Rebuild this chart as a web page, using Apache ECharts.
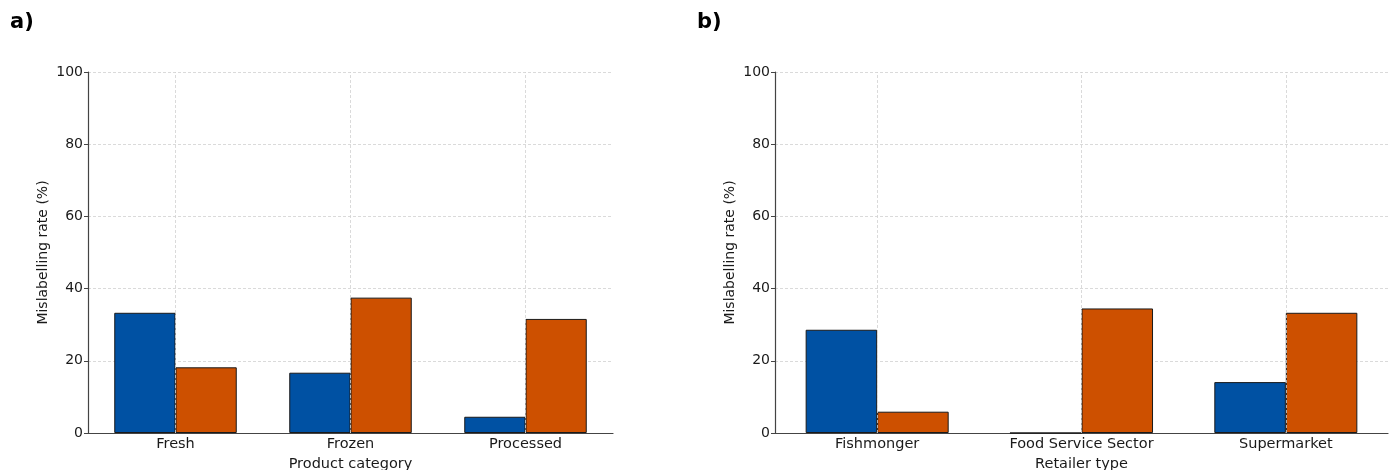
<!DOCTYPE html>
<html>
<head>
<meta charset="utf-8">
<script src="https://cdn.jsdelivr.net/npm/echarts@6/dist/echarts.min.js"></script>
<style>
html,body{margin:0;padding:0;background:#fff;}
#chart{width:1395px;height:470px;}
</style>
</head>
<body>
<div id="chart"></div>
<script>
// ---- data ----
const productCategories = ['Fresh', 'Frozen', 'Processed'];
const productBlue = [33.3, 16.7, 4.5];
const productOrange = [18.2, 37.5, 31.6];

const retailerTypes = ['Fishmonger', 'Food Service Sector', 'Supermarket'];
const retailerBlue = [28.6, 0, 14.1];
const retailerOrange = [5.9, 34.5, 33.3];

const yTickMin = 0, yTickMax = 100, yTickStep = 20;
const yAxisTitle = 'Mislabelling rate (%)';
const xAxisTitles = ['Product category', 'Retailer type'];
const panelLabels = ['a)', 'b)'];

// ---- style ----
const FONT = 'DejaVu Sans';
const BLUE = '#0051A3';
const ORANGE = '#CD5000';
const EDGE = '#1a1a1a';
const AXIS = '#444444';
const GRIDC = '#d0d0d0';
const TEXT = '#1a1a1a';

const chart = echarts.init(document.getElementById('chart'), null, {renderer: 'canvas'});

function xAxisFor(idx, cats, title) {
  return {
    type: 'category', gridIndex: idx, data: cats,
    boundaryGap: true,
    axisLine: {show: true, lineStyle: {color: AXIS, width: 1.2}},
    axisTick: {show: false},
    axisLabel: {color: TEXT, fontFamily: FONT, fontSize: 14.5, margin: 4},
    splitLine: {show: false},
    name: title, nameLocation: 'middle', nameGap: 20,
    nameTextStyle: {color: TEXT, fontFamily: FONT, fontSize: 14.5, verticalAlign: 'top'}
  };
}
function yAxisFor(idx) {
  return {
    type: 'value', gridIndex: idx, min: yTickMin, max: yTickMax, interval: yTickStep,
    axisLine: {show: true, lineStyle: {color: AXIS, width: 1.2}},
    axisTick: {show: true, length: 4, lineStyle: {color: AXIS, width: 1}},
    axisLabel: {color: TEXT, fontFamily: FONT, fontSize: 14, margin: 5},
    splitLine: {show: true, lineStyle: {color: GRIDC, type: [3, 2], width: 0.8}},
    name: yAxisTitle, nameLocation: 'middle', nameGap: 38, nameRotate: 90,
    nameTextStyle: {color: TEXT, fontFamily: FONT, fontSize: 14}
  };
}
function barSeries(idx, values, color) {
  return {
    type: 'bar', xAxisIndex: idx, yAxisIndex: idx, data: values,
    barWidth: '35%', barGap: '0%', z: 3,
    itemStyle: {color: color, borderColor: EDGE, borderWidth: 1},
    emphasis: {disabled: true}, animation: false
  };
}
function vGridSeries(idx, cats) {
  return {
    type: 'line', xAxisIndex: idx, yAxisIndex: idx, data: [], z: 1, silent: true,
    markLine: {
      silent: true, symbol: 'none', animation: false,
      label: {show: false},
      lineStyle: {color: GRIDC, type: [3, 2], width: 0.8},
      data: cats.map(c => ({xAxis: c}))
    }
  };
}

const option = {
  backgroundColor: '#ffffff',
  animation: false,
  grid: [
    {left: 88, top: 72, width: 525, height: 361, containLabel: false, outerBoundsMode: 'none'},
    {left: 775, top: 72, width: 613, height: 361, containLabel: false, outerBoundsMode: 'none'}
  ],
  xAxis: [xAxisFor(0, productCategories, xAxisTitles[0]), xAxisFor(1, retailerTypes, xAxisTitles[1])],
  yAxis: [yAxisFor(0), yAxisFor(1)],
  series: [
    vGridSeries(0, productCategories),
    vGridSeries(1, retailerTypes),
    barSeries(0, productBlue, BLUE),
    barSeries(0, productOrange, ORANGE),
    barSeries(1, retailerBlue, BLUE),
    barSeries(1, retailerOrange, ORANGE)
  ],
  graphic: [
    {type: 'text', left: 10, top: 12, style: {text: panelLabels[0], font: 'bold 21px "DejaVu Sans"', fill: '#000'}},
    {type: 'text', left: 697, top: 12, style: {text: panelLabels[1], font: 'bold 21px "DejaVu Sans"', fill: '#000'}}
  ]
};
chart.setOption(option);
</script>
</body>
</html>
